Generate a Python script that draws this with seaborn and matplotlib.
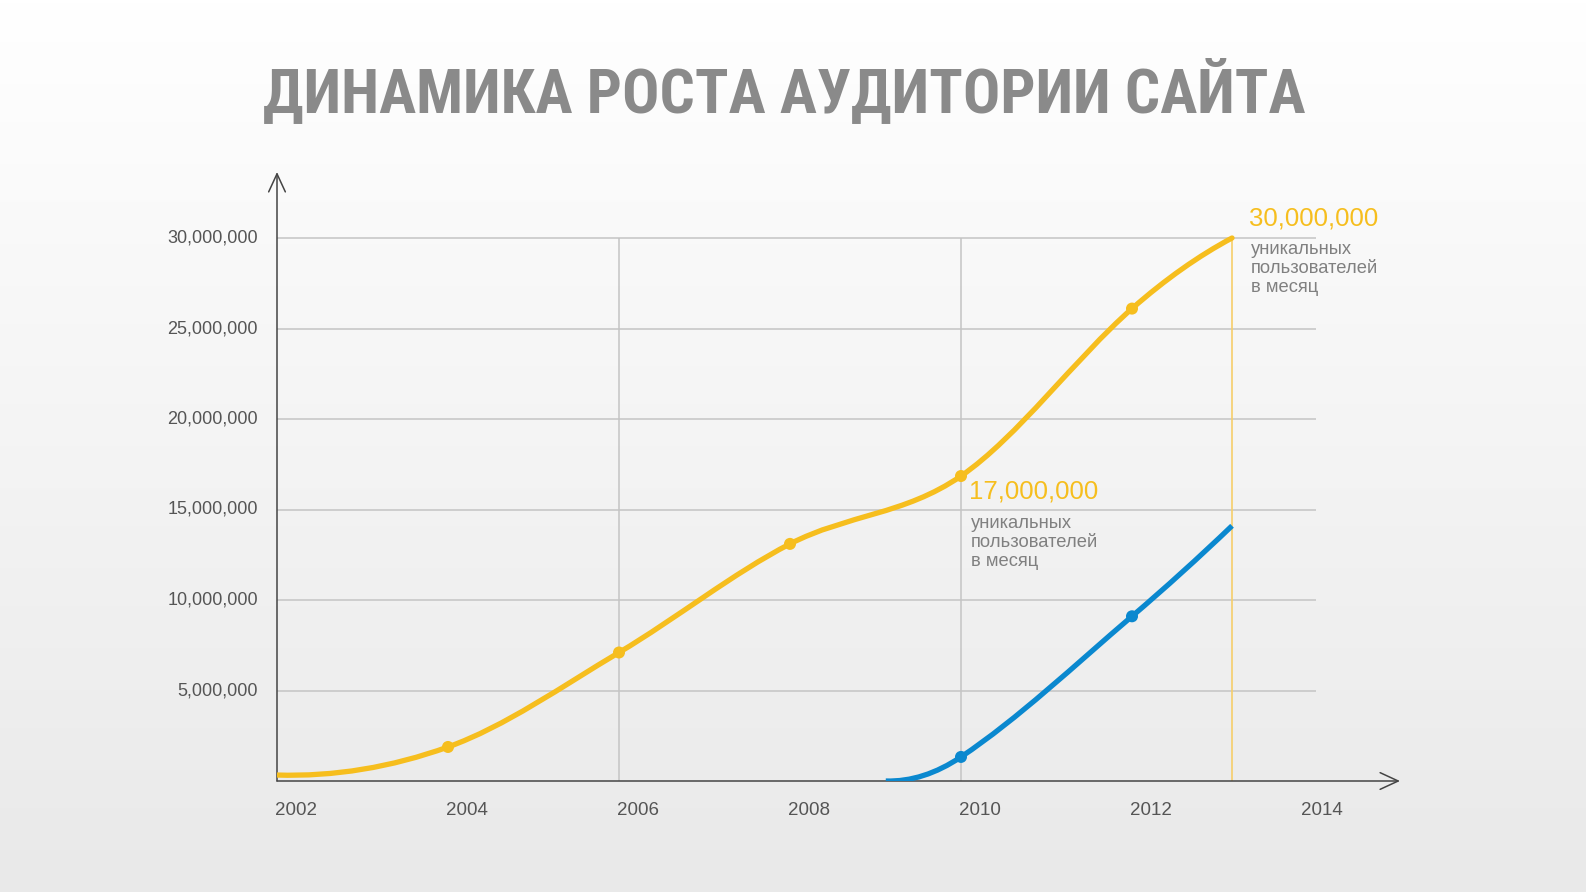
import numpy as np
import matplotlib
matplotlib.use('Agg')
import matplotlib.pyplot as plt
from matplotlib import font_manager
from matplotlib.path import Path
from matplotlib.patches import PathPatch
import seaborn as sns

# data (values in millions of users)
yellow_years = [2002, 2004, 2006, 2008, 2010, 2012, 2013.17]
yellow_users = [0.33, 1.88, 7.1, 13.1, 16.85, 26.1, 30.0]
yellow_marked = [1, 2, 3, 4, 5]

blue_years = [2009.12, 2010, 2012, 2013.17]
blue_users = [0.0, 1.33, 9.1, 14.1]
blue_marked = [1, 2]

y_ticks = [5, 10, 15, 20, 25, 30]
y_tick_labels = ['5,000,000', '10,000,000', '15,000,000', '20,000,000', '25,000,000', '30,000,000']
x_ticks = [2002, 2004, 2006, 2008, 2010, 2012, 2014]
v_grid = [2006, 2010]

title = 'ДИНАМИКА РОСТА АУДИТОРИИ САЙТА'
note_lines = 'уникальных\nпользователей\nв месяц'

YELLOW = '#F6BE1E'
BLUE = '#0A88CF'
TICK_COLOR = '#555555'
GRID_COLOR = '#c4c4c4'


def smooth_path(xs, ys):
    # cubic hermite through the points, drawn as bezier segments
    xs = np.asarray(xs, float)
    ys = np.asarray(ys, float)
    n = len(xs)
    sec = np.diff(ys) / np.diff(xs)
    m = np.zeros(n)
    for i in range(1, n - 1):
        m[i] = (ys[i + 1] - ys[i - 1]) / (xs[i + 1] - xs[i - 1])
    m[0] = 2 * sec[0] - m[1]
    m[-1] = 2 * sec[-1] - m[-2]
    verts = [(xs[0], ys[0])]
    codes = [Path.MOVETO]
    for i in range(n - 1):
        dx = xs[i + 1] - xs[i]
        verts += [(xs[i] + dx / 3, ys[i] + m[i] * dx / 3),
                  (xs[i + 1] - dx / 3, ys[i + 1] - m[i + 1] * dx / 3),
                  (xs[i + 1], ys[i + 1])]
        codes += [Path.CURVE4] * 3
    return Path(verts, codes)


def narrow_font():
    # look for a condensed / narrow face, else plain DejaVu Sans
    names = sorted({f.name for f in font_manager.fontManager.ttflist})
    for key in ['Liberation Sans Narrow', 'DejaVu Sans Condensed', 'Roboto Condensed',
                'Open Sans Condensed', 'Noto Sans Condensed']:
        if key in names:
            return key, 'normal'
    for f in font_manager.fontManager.ttflist:
        if f.name == 'DejaVu Sans' and f.stretch in ('condensed', 'semi-condensed', 600, 500):
            return 'DejaVu Sans', 'condensed'
    for n in names:
        if 'Condensed' in n or 'Narrow' in n:
            return n, 'normal'
    return 'Roboto', 'normal'


sns.set_style('white')
plt.rcParams['font.family'] = ['Liberation Sans', 'DejaVu Sans']

fig = plt.figure(figsize=(15.86, 8.92), dpi=100)

# background gradient
bg = fig.add_axes([0, 0, 1, 1], zorder=-10)
grad = np.linspace(0, 1, 256).reshape(-1, 1)
bg.imshow(grad, aspect='auto', cmap=matplotlib.colors.LinearSegmentedColormap.from_list(
    'bg', ['#ffffff', '#e9e9e9']), extent=[0, 1, 1, 0])
bg.axis('off')

ax = fig.add_axes([277 / 1586, (892 - 781) / 892, 1123 / 1586, 609 / 892])
ax.set_facecolor('none')
ax.set_xlim(2002, 2002 + 1123 / 85.5)
ax.set_ylim(0, 609 / 18.1)
for s in ax.spines.values():
    s.set_visible(False)

# grid
ax.hlines(y_ticks, 2002, 2014.15, color=GRID_COLOR, lw=1.1, zorder=1)
ax.vlines(v_grid, 0, 30, color=GRID_COLOR, lw=1.1, zorder=1)
ax.vlines(yellow_years[-1], 0, 30, color='#F6CE6A', lw=1.2, zorder=1)

# axis arrows
arrow = dict(arrowstyle='->,head_length=1.3,head_width=0.6', color='#444444', lw=1.1,
             shrinkA=0, shrinkB=0)
ax.annotate('', xy=(ax.get_xlim()[1], 0), xytext=(2002, 0), arrowprops=arrow, annotation_clip=False)
ax.annotate('', xy=(2002, ax.get_ylim()[1]), xytext=(2002, 0), arrowprops=arrow, annotation_clip=False)

# curves
ax.add_patch(PathPatch(smooth_path(yellow_years, yellow_users), fc='none', ec=YELLOW, lw=3.8,
                       capstyle='round', zorder=3))
ax.add_patch(PathPatch(smooth_path(blue_years, blue_users), fc='none', ec=BLUE, lw=3.8,
                       capstyle='butt', zorder=3))
sns.scatterplot(x=[yellow_years[i] for i in yellow_marked], y=[yellow_users[i] for i in yellow_marked],
                color=YELLOW, s=75, edgecolor='none', ax=ax, zorder=4)
sns.scatterplot(x=[blue_years[i] for i in blue_marked], y=[blue_users[i] for i in blue_marked],
                color=BLUE, s=75, edgecolor='none', ax=ax, zorder=4)

# ticks
ax.set_xticks([])
ax.set_yticks([])
for y, lab in zip(y_ticks, y_tick_labels):
    ax.text(2002 - 19 / 85.5, y, lab, ha='right', va='center', fontsize=13, color=TICK_COLOR)
for x in x_ticks:
    ax.text(x - 2 / 85.5, -1.65, str(x), ha='left', va='center', fontsize=13.5, color=TICK_COLOR)

# annotations
ax.text(2013.17 + 17 / 85.5, 30 + 1.1, '30,000,000', fontsize=18.5, color=YELLOW, ha='left', va='center')
ax.text(2013.17 + 19 / 85.5, 28.3, note_lines, fontsize=13.2, color='#808080', ha='left', va='center',
        linespacing=1.15)
ax.text(2010 + 8 / 85.5, 16.0, '17,000,000', fontsize=18.5, color=YELLOW, ha='left', va='center')
ax.text(2010 + 10 / 85.5, 13.2, note_lines, fontsize=13.2, color='#808080', ha='left', va='center',
        linespacing=1.15)

# title, sized to the width it has in the reference
tfam, tstretch = narrow_font()
ttl = fig.text(0.4945, 1 - 91 / 892, title, ha='center', va='center', fontsize=50, fontweight='bold',
               color='#8a8a8a', family=[tfam, 'DejaVu Sans'], fontstretch=tstretch)
renderer = fig.canvas.get_renderer()
w = ttl.get_window_extent(renderer).width
ttl.set_fontsize(50 * 1044 / w)

fig.savefig('out.png', dpi=100)
